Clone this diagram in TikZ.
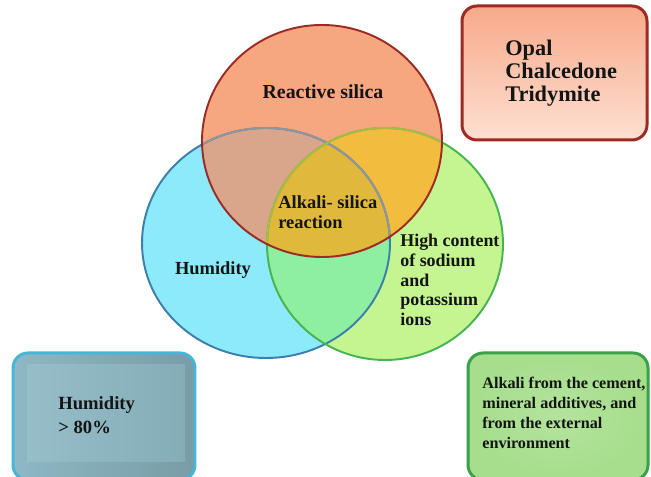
\documentclass[tikz,border=0pt]{standalone}
\usepackage{fontspec}
\setmainfont{Liberation Serif}
\usetikzlibrary{positioning}
\definecolor{silica}{HTML}{F6A780}
\definecolor{silicaline}{HTML}{9B2B24}
\definecolor{humid}{HTML}{8DEAFB}
\definecolor{humidline}{HTML}{3C7FAF}
\definecolor{alkali}{HTML}{C4F590}
\definecolor{alkaliline}{HTML}{46B450}
\definecolor{mint}{HTML}{8DEF9F}
\definecolor{clay}{HTML}{D9A68C}
\definecolor{amber}{HTML}{F2BC3E}
\definecolor{golden}{HTML}{E0B83C}
\definecolor{opaltop}{HTML}{F8A98A}
\definecolor{opalbot}{HTML}{FDE0D2}
\definecolor{wetbox}{HTML}{8DB8C4}
\definecolor{wetline}{HTML}{45B5DA}
\definecolor{ionbox}{HTML}{A6DE8C}
\definecolor{ionline}{HTML}{3AA04A}

\begin{document}
\begin{tikzpicture}[
    every node/.style={inner sep=0pt, text=black!92},
    vtext/.style={font=\bfseries\fontsize{10.5}{11.2}\selectfont, align=left},
    btext/.style={align=left, anchor=west},
    infobox/.style={rectangle, rounded corners=0.3cm, line width=1.7pt},
    ring/.style={line width=1.1pt}
]
\clip (0,0) rectangle (13.02,9.54);
\fill[white] (0,0) rectangle (13.02,9.54);

% Circles
\fill[humid]  (5.32,4.68) ellipse [x radius=2.48, y radius=2.30];
\fill[alkali] (7.70,4.66) ellipse [x radius=2.36, y radius=2.32];
\fill[silica] (6.44,6.72) ellipse [x radius=2.40, y radius=2.32];
\begin{scope}
  \clip (5.32,4.68) ellipse [x radius=2.48, y radius=2.30];
  \fill[mint] (7.70,4.66) ellipse [x radius=2.36, y radius=2.32];
  \fill[clay] (6.44,6.72) ellipse [x radius=2.40, y radius=2.32];
\end{scope}
\begin{scope}
  \clip (7.70,4.66) ellipse [x radius=2.36, y radius=2.32];
  \fill[amber] (6.44,6.72) ellipse [x radius=2.40, y radius=2.32];
  \clip (5.32,4.68) ellipse [x radius=2.48, y radius=2.30];
  \fill[golden] (6.44,6.72) ellipse [x radius=2.40, y radius=2.32];
\end{scope}

% Outlines
\draw[ring, humidline]  (5.32,4.68) ellipse [x radius=2.48, y radius=2.30];
\draw[ring, alkaliline] (7.70,4.66) ellipse [x radius=2.36, y radius=2.32];
\begin{scope}
  \clip (6.44,6.72) ellipse [x radius=2.40, y radius=2.32];
  \draw[ring, humidline!45!clay]  (5.32,4.68) ellipse [x radius=2.48, y radius=2.30];
  \draw[ring, alkaliline!40!amber] (7.70,4.66) ellipse [x radius=2.36, y radius=2.32];
\end{scope}
\draw[ring, silicaline] (6.44,6.72) ellipse [x radius=2.40, y radius=2.32];

% Circle labels
\node[vtext, font=\bfseries\fontsize{11.3}{12}\selectfont] (react) at (6.46,7.70) {Reactive silica};
\node[vtext, anchor=west] (asr) at (5.56,5.30) {Alkali- silica\\reaction};
\node[vtext] (humidity) at (4.26,4.14) {Humidity};
\node[vtext, font=\bfseries\fontsize{10.2}{11.3}\selectfont, anchor=west] (ions) at (8.00,3.94)
  {High content\\of sodium\\and\\potassium\\ions};

% Side boxes
\node[infobox, draw=silicaline, top color=opaltop, bottom color=opalbot,
  minimum width=3.70cm, minimum height=2.68cm] (opalbox) at (11.09,8.08) {};
\node[btext, font=\bfseries\fontsize{12.7}{13.2}\selectfont] (opal) at (10.10,8.08)
  {Opal\\Chalcedone\\Tridymite};

\node[infobox, draw=wetline, left color=wetbox, right color=wetbox!85!black,
  minimum width=3.64cm, minimum height=2.54cm] (wetbox) at (2.08,1.21) {};
\node[rectangle, left color=wetbox!92!white, right color=wetbox!94!black,
  minimum width=3.16cm, minimum height=1.94cm] (wetinner) at (2.12,1.28) {};
\node[btext, font=\bfseries\fontsize{10.6}{13.6}\selectfont] (wet) at (1.16,1.24)
  {Humidity\\> 80\%};

\node[infobox, draw=ionline, inner color=ionbox!85!white, outer color=ionbox,
  minimum width=3.60cm, minimum height=2.54cm] (ionbox) at (11.16,1.21) {};
\node[btext, font=\bfseries\fontsize{9.2}{11.3}\selectfont] (source) at (9.64,1.28)
  {Alkali from the cement,\\mineral additives, and\\from the external\\environment};
\end{tikzpicture}
\end{document}
